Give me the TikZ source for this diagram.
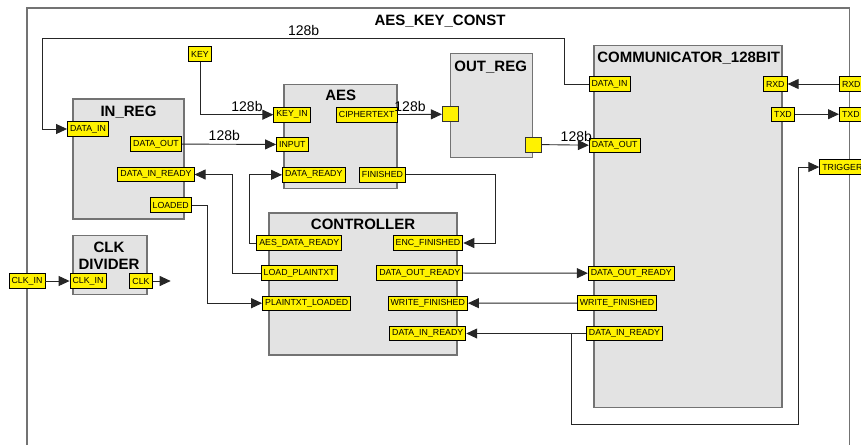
\documentclass[tikz,border=0pt]{standalone}
\usepackage{fontspec}
\setmainfont{Liberation Sans}
\usetikzlibrary{arrows.meta,positioning}

\begin{document}
\begin{tikzpicture}[
  x=1pt,y=-1pt,
  blk/.style={rectangle,draw=black!55,fill=black!11,line width=1.4pt,inner sep=0pt},
  ttl/.style={font=\fontsize{15}{16.5}\selectfont\bfseries,align=center,inner sep=0pt},
  port/.style={rectangle,draw=black,fill=yellow,line width=0.8pt,inner xsep=2.6pt,inner ysep=0pt,minimum height=14.5pt,font=\fontsize{8.8}{9}\selectfont},
  sq/.style={rectangle,draw=black!80,fill=yellow,line width=0.8pt,minimum width=16pt,minimum height=15pt,inner sep=0pt},
  bw/.style={font=\fontsize{14}{14}\selectfont,inner sep=0pt},
  arr/.style={-{Triangle[length=11pt,width=10pt]},line width=0.9pt,draw=black!85},
  frame/.style={draw=black!55,line width=1.5pt}
]
\useasboundingbox (0,0) rectangle (861,445);
% outer frame
\draw[frame] (27,445) -- (27,8) -- (849.5,8) -- (849.5,445);
\node[ttl] (top) at (440,21) {AES\_KEY\_CONST};
% blocks
\node[blk,minimum width=111,minimum height=120] (inreg) at (128.5,159) {};
\node[blk,minimum width=74,minimum height=59] (clkdiv) at (110,264.7) {};
\node[blk,minimum width=113,minimum height=104] (aes) at (340.3,136.2) {};
\node[blk,minimum width=82,minimum height=104] (outreg) at (491.3,105.5) {};
\node[blk,minimum width=188,minimum height=362] (comm) at (688,226.7) {};
\node[blk,minimum width=188,minimum height=142] (ctrl) at (363,283.8) {};
\node[ttl] (inregt) at (128.5,112) {IN\_REG};
\node[ttl] (clkdivt) at (109,256) {CLK\\DIVIDER};
\node[ttl] (aest) at (340.7,95) {AES};
\node[ttl] (outregt) at (490.7,66.7) {OUT\_REG};
\node[ttl] (commt) at (688.7,58.3) {COMMUNICATOR\_128BIT};
\node[ttl] (ctrlt) at (363,224.3) {CONTROLLER};
% ports
\node[port] (key) at (200,54) {KEY};
\node[port] (indatain) at (88,129) {DATA\_IN};
\node[port] (indataout) at (156,144) {DATA\_OUT};
\node[port] (indr) at (156,174.5) {DATA\_IN\_READY};
\node[port] (loaded) at (170.7,205) {LOADED};
\node[port] (clkinx) at (27,281) {CLK\_IN};
\node[port] (clkin) at (88,281) {CLK\_IN};
\node[port] (clk) at (141,281) {CLK};
\node[port] (keyin) at (292,114.7) {KEY\_IN};
\node[port] (cipher) at (366.7,114.7) {CIPHERTEXT};
\node[port] (aesinput) at (292.3,144.5) {INPUT};
\node[port] (aesdr) at (313.7,174.8) {DATA\_READY};
\node[port] (finished) at (382.5,174.8) {FINISHED};
\node[sq] (outregin) at (450.3,114.2) {};
\node[sq] (outregout) at (533.7,144.5) {};
\node[port] (cdatain) at (609.5,84) {DATA\_IN};
\node[port] (crxd) at (775.3,84) {RXD};
\node[port] (ctxd) at (783,114.2) {TXD};
\node[port,anchor=west] (rxd) at (839,84) {RXD};
\node[port,anchor=west] (txd) at (839,114.2) {TXD};
\node[port,anchor=west] (trigger) at (819.3,167) {TRIGGER};
\node[port] (cdataout) at (614.7,145.5) {DATA\_OUT};
\node[port] (cdor) at (631.3,273.2) {DATA\_OUT\_READY};
\node[port] (cwf) at (617,303) {WRITE\_FINISHED};
\node[port] (cdir) at (624.5,333.5) {DATA\_IN\_READY};
\node[port] (aesdrc) at (299.3,243) {AES\_DATA\_READY};
\node[port] (loadpt) at (299.2,273) {LOAD\_PLAINTXT};
\node[port] (ptloaded) at (306.7,303.2) {PLAINTXT\_LOADED};
\node[port] (encfin) at (428,243) {ENC\_FINISHED};
\node[port] (dataoutrdy) at (419.8,273) {DATA\_OUT\_READY};
\node[port] (writefin) at (427.8,303.2) {WRITE\_FINISHED};
\node[port] (datainrdy) at (427.7,333.5) {DATA\_IN\_READY};
% helper points
\coordinate (fbtop) at (564,38.3);
\coordinate (fbleft) at (42,38.3);
\coordinate (tap) at (571.5,333.5);
\coordinate (trigturn) at (798.3,424);
\coordinate (clkout) at (170.7,281);
% bus widths
\node[bw] (bwa) at (303.7,30) {128b};
\node[bw] (bwb) at (247,106) {128b};
\node[bw] (bwc) at (224.3,135.7) {128b};
\node[bw] (bwd) at (410,106) {128b};
\node[bw] (bwe) at (576.3,136) {128b};
% connections
\draw[arr] (cdatain.west) -| (fbtop) -- (fbleft) |- (indatain.west);
\draw[arr] (key.south) |- (keyin.west);
\draw[arr] (indataout) -- (aesinput);
\draw[arr] (cipher) -- (outregin);
\draw[arr] (outregout) -- (cdataout);
\draw[arr] (aesdrc.west) -- ++(-6.6,0) |- (aesdr.west);
\draw[arr] (loadpt.west) -- ++(-28,0) |- (indr.east);
\draw[arr] (loaded.east) -- ++(15.6,0) |- (ptloaded.west);
\draw[arr] (finished.east) -- ++(89.3,0) |- (encfin.east);
\draw[arr] (dataoutrdy) -- (cdor);
\draw[arr] (cwf) -- (writefin);
\draw[arr] (cdir) -- (datainrdy);
\draw[arr] (tap) |- (trigturn) |- (trigger.west);
\draw[arr] (rxd) -- (crxd);
\draw[arr] (ctxd) -- (txd);
\draw[arr] (clkinx) -- (clkin);
\draw[arr] (clk) -- (clkout);
\end{tikzpicture}
\end{document}
